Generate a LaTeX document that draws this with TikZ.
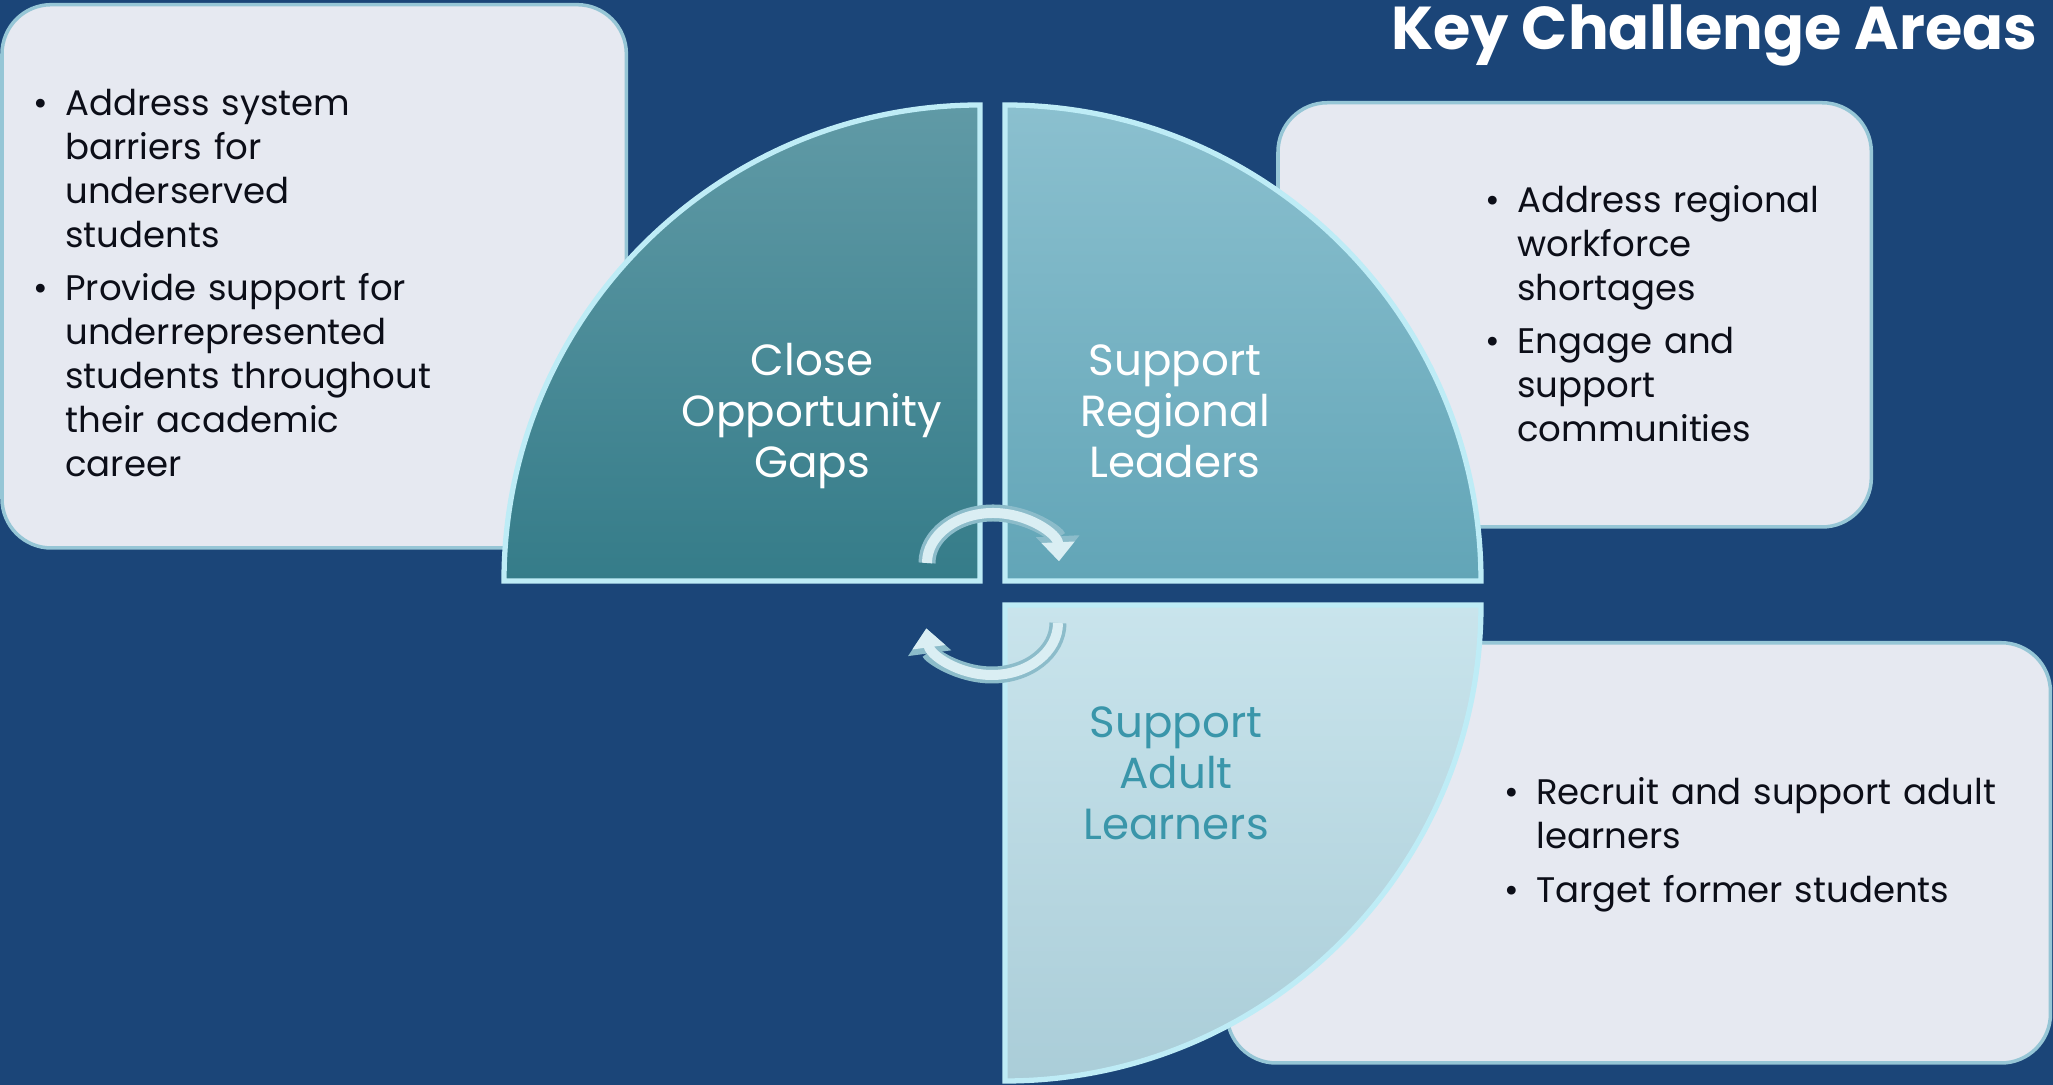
\documentclass[tikz,border=0pt]{standalone}
\usepackage{fontspec}
\setmainfont{Poppins}
\usepackage{tikz}
\usetikzlibrary{arrows.meta}

\definecolor{bgblue}{RGB}{27,69,120}
\definecolor{boxfill}{RGB}{230,233,241}
\definecolor{boxedge}{RGB}{150,198,214}
\definecolor{quadedge}{RGB}{190,236,246}
\definecolor{textdark}{RGB}{12,14,24}
\definecolor{adultteal}{RGB}{58,150,170}
\definecolor{arrowdark}{RGB}{140,188,202}
\definecolor{arrowlight}{RGB}{218,238,243}

\newcommand{\keypoint}[1]{\hangindent=9pt\hangafter=1\noindent\makebox[9pt][l]{\textbullet}#1\par}

\begin{document}
\begin{tikzpicture}[x=0.01cm, y=0.01cm,
		box_style/.style={draw=boxedge, line width=1pt, fill=boxfill, rounded corners=14pt, inner sep=0pt, outer sep=0pt, anchor=south west},
		quad_style/.style={draw=quadedge, line width=1.5pt},
		label_style/.style={font=\fontsize{12.4}{14.5}\selectfont, text width=4cm, align=center, anchor=base, inner sep=0pt},
		list_style/.style={font=\fontsize{10.1}{12.5}\selectfont, text=textdark, text width=5.5cm, align=left, anchor=base west, inner sep=0pt, execute at begin node=\setlength{\parskip}{2.6pt}},
		arrow_under/.style={draw=arrowdark, line width=0.17cm, -{Triangle[width=0.42cm,length=0.25cm]}},
		arrow_over/.style={draw=arrowlight, line width=0.1cm, -{Triangle[width=0.32cm,length=0.19cm]}}]

		\useasboundingbox (0,0) rectangle (2053,1085);
		\fill[bgblue] (0,0) rectangle (2053,1085);

		% boxes
		\node[box_style, minimum width=6.24cm, minimum height=5.43cm] (box_gaps) at (2,537) {};
		\node[box_style, minimum width=5.93cm, minimum height=4.24cm] (box_leaders) at (1278,558) {};
		\node[box_style, minimum width=8.23cm, minimum height=4.20cm] (box_adult) at (1227,22) {};

		% quarters
		\draw[quad_style, top color={rgb,255:red,96;green,154;blue,166}, bottom color={rgb,255:red,53;green,124;blue,137}]
			(980,504) -- (504,504) arc[start angle=180, end angle=90, radius=476] -- cycle;
		\draw[quad_style, top color={rgb,255:red,139;green,192;blue,207}, bottom color={rgb,255:red,98;green,165;blue,183}]
			(1005,504) -- (1005,980) arc[start angle=90, end angle=0, radius=476] -- cycle;
		\draw[quad_style, top color={rgb,255:red,201;green,228;blue,236}, bottom color={rgb,255:red,170;green,205;blue,216}]
			(1005,480) -- (1481,480) arc[start angle=0, end angle=-90, radius=476] -- cycle;

		\node[label_style, text=white] (lab_gaps) at (812,709) {Close\\Opportunity\\Gaps};
		\node[label_style, text=white] (lab_leaders) at (1175,709) {Support\\Regional\\Leaders};
		\node[label_style, text=adultteal] (lab_adult) at (1176,347) {Support\\Adult\\Learners};

		% bullet lists
		\node[list_style] (list_gaps) at (33,969) {\keypoint{Address system\newline barriers for\newline underserved\newline students}\keypoint{Provide support for\newline underrepresented\newline students throughout\newline their academic\newline career}};
		\node[list_style] (list_leaders) at (1485,872) {\keypoint{Address regional\newline workforce\newline shortages}\keypoint{Engage and\newline support\newline communities}};
		\node[list_style, text width=7cm] (list_adult) at (1504,280) {\keypoint{Recruit and support adult\newline learners}\keypoint{Target former students}};

		% cycle arrows
		\coordinate (cyc_top) at (927,522);
		\coordinate (cyc_bot) at (1058,462);
		\draw[arrow_under] (cyc_top) arc[start angle=180, end angle=2, x radius=66, y radius=50];
		\draw[arrow_over] (cyc_top) arc[start angle=180, end angle=2, x radius=66, y radius=50];
		\draw[arrow_under] (cyc_bot) arc[start angle=0, end angle=-174, x radius=66, y radius=52];
		\draw[arrow_over] (cyc_bot) arc[start angle=0, end angle=-174, x radius=66, y radius=52];

		\node[font=\fontsize{17.2}{20}\selectfont\bfseries, text=white, anchor=base east, inner sep=0pt] (title) at (2038,1035) {Key Challenge Areas};

\end{tikzpicture}
\end{document}
